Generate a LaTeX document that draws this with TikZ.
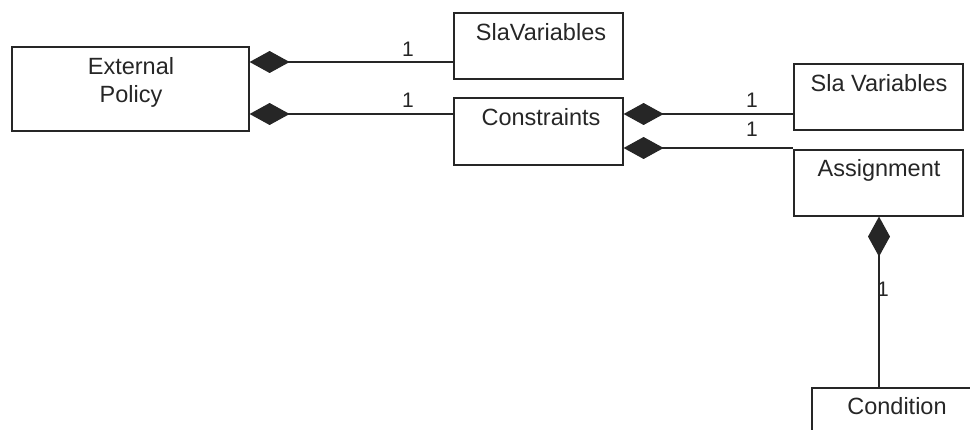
\documentclass[tikz,border=0pt]{standalone}
\usepackage{fontspec}
\setmainfont{Liberation Sans}
\usetikzlibrary{arrows.meta}
\begin{document}
\begin{tikzpicture}[x=1pt,y=-1pt,
 box/.style={draw=black!85, line width=1.6pt, rectangle, inner sep=0pt, anchor=north west},
 txt/.style={font=\fontsize{23.5}{28}\selectfont, anchor=base, inner sep=0pt, text=black!85},
 num/.style={font=\fontsize{21}{24}\selectfont, anchor=base, inner sep=0pt, text=black!85},
 comp/.style={draw=black!85, line width=1.6pt, {Diamond[length=40pt,width=22pt]}-}]
\useasboundingbox (0,0) rectangle (970,430);
\clip (0,0) rectangle (970,430);
% boxes
\node[box, minimum width=237pt, minimum height=84pt] (ep) at (11,46) {};
\node[box, minimum width=169pt, minimum height=66pt] (slav1) at (453,12) {};
\node[box, minimum width=169pt, minimum height=67pt] (cons) at (453,97) {};
\node[box, minimum width=169pt, minimum height=66pt] (slav2) at (793,63) {};
\node[box, minimum width=169pt, minimum height=66pt] (asg) at (793,149) {};
\node[box, minimum width=172pt, minimum height=60pt] (cond) at (811,387) {};
% texts
\node[txt] (t1) at (131,75) {External};
\node[txt] (t2) at (131,103) {Policy};
\node[txt] (t3) at (541,41) {SlaVariables};
\node[txt] (t4) at (541,126) {Constraints};
\node[txt] (t5) at (879,92) {Sla Variables};
\node[txt] (t6) at (879,177) {Assignment};
\node[txt] (t7) at (897,414) {Condition};
% connectors
\draw[comp] (ep.east |- 0,62) -- (slav1.west |- 0,62);
\draw[comp] (ep.east |- 0,114) -- (cons.west |- 0,114);
\draw[comp] (cons.east |- 0,114) -- (slav2.west |- 0,114);
\draw[comp] (cons.east |- 0,148) -- (asg.west |- 0,148);
\draw[comp] (asg.south -| 879,0) -- (cond.north -| 879,0);
% multiplicities
\node[num] (m1) at (408,57) {1};
\node[num] (m2) at (408,108) {1};
\node[num] (m3) at (752,108) {1};
\node[num] (m4) at (752,137) {1};
\node[num] (m5) at (883,297) {1};
\end{tikzpicture}
\end{document}
